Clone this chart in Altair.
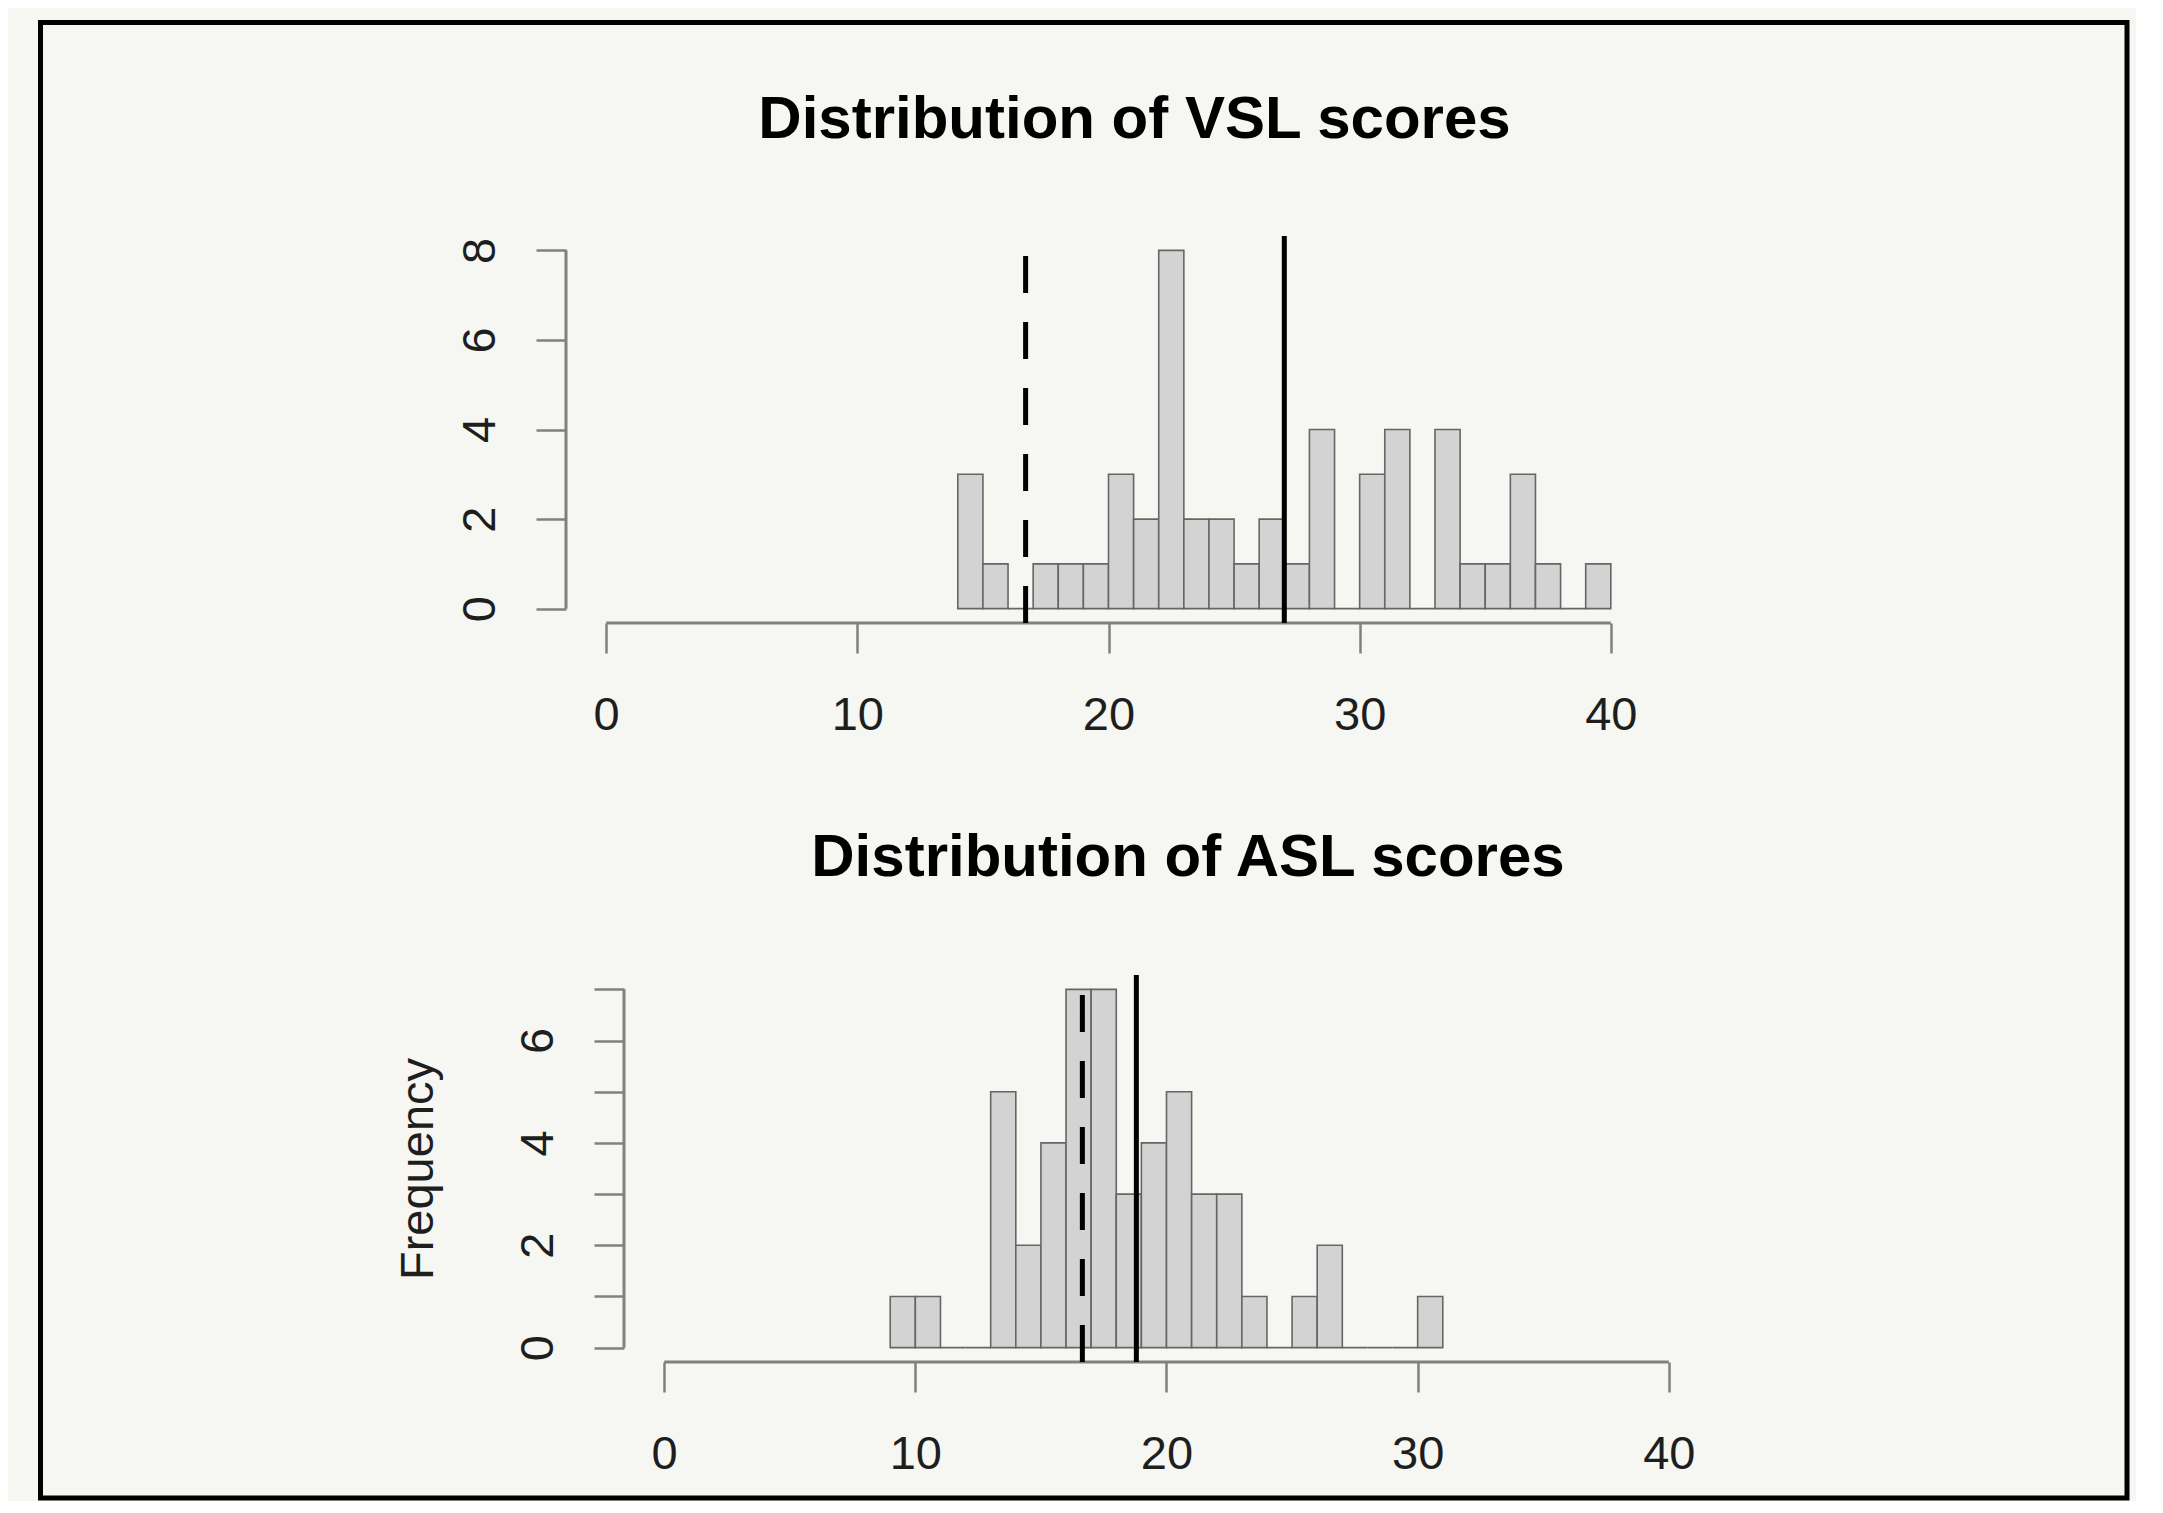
import altair as alt
import pandas as pd

# ---------------- data ----------------
vsl_bin_start = [14, 15, 16, 17, 18, 19, 20, 21, 22, 23, 24, 25, 26,
                 27, 28, 29, 30, 31, 32, 33, 34, 35, 36, 37, 38, 39]
vsl_counts = [3, 1, 0, 1, 1, 1, 3, 2, 8, 2, 2, 1, 2,
              1, 4, 0, 3, 4, 0, 4, 1, 1, 3, 1, 0, 1]

asl_bin_start = [9, 10, 11, 12, 13, 14, 15, 16, 17, 18, 19,
                 20, 21, 22, 23, 24, 25, 26, 27, 28, 29, 30]
asl_counts = [1, 1, 0, 0, 5, 2, 4, 7, 7, 3, 4,
              5, 3, 3, 1, 0, 1, 2, 0, 0, 0, 1]

vsl_dashed_line = 16.7
vsl_solid_line = 27.0
asl_dashed_line = 16.65
asl_solid_line = 18.8

x_ticks = [0, 10, 20, 30, 40]
vsl_y_ticks = [0, 2, 4, 6, 8]
asl_y_ticks = [0, 1, 2, 3, 4, 5, 6, 7]

vsl_title = "Distribution of VSL scores"
asl_title = "Distribution of ASL scores"
y_title = "Frequency"

# ---------------- styling ----------------
FONT = "Liberation Sans"
BG = "#f6f7f2"
BAR_FILL = "#d3d3d3"
BAR_STROKE = "#666666"
AXIS_GREY = "#808080"
TEXT = "#1e1e1e"

PLOT_W = 1085
PLOT_H = 387
UNIT_PX = PLOT_W / 43.2  # R extends the x range 0..40 by 4% on each side


def panel(starts, counts, ymax, dashed, solid, y_ticks, title, title_dx,
          title_offset, shift_px=0, y_axis_title=None, label_expr=None):
    x_lo = -1.6 - shift_px / UNIT_PX
    x_hi = 41.6
    y_lo = -0.04 * ymax
    y_hi = ymax * 1.04
    width = PLOT_W + shift_px

    bars = pd.DataFrame({
        "start": starts,
        "end": [s + 1 for s in starts],
        "count": counts,
        "base": [0] * len(starts),
    })
    x_axis_df = pd.DataFrame({"x0": [0], "x1": [40], "y0": [y_lo]})
    y_axis_df = pd.DataFrame({"x0": [-1.6], "y0": [0], "y1": [ymax]})
    dashed_df = pd.DataFrame({"x": [dashed], "y0": [y_lo], "y1": [y_hi]})
    solid_df = pd.DataFrame({"x": [solid], "y0": [y_lo], "y1": [y_hi]})

    xs = alt.Scale(domain=[x_lo, x_hi], nice=False, zero=False)
    ys = alt.Scale(domain=[y_lo, y_hi], nice=False, zero=False)

    y_axis_kwargs = dict(
        values=y_ticks, labelAngle=270, labelAlign="center",
        labelBaseline="bottom", labelPadding=32, labelOverlap=False,
        labelFlush=False,
    )
    if shift_px:
        y_axis_kwargs["offset"] = -shift_px
    if label_expr:
        y_axis_kwargs["labelExpr"] = label_expr
    if y_axis_title:
        y_axis_kwargs["titlePadding"] = 72

    bar_layer = alt.Chart(bars).mark_rect(
        fill=BAR_FILL, stroke=BAR_STROKE, strokeWidth=1.6
    ).encode(
        x=alt.X("start:Q", scale=xs, title=None,
                axis=alt.Axis(values=x_ticks, labelFlush=False,
                              labelOverlap=False, labelPadding=39)),
        x2="end:Q",
        y=alt.Y("count:Q", scale=ys, title=y_axis_title,
                axis=alt.Axis(**y_axis_kwargs)),
        y2="base:Q",
    )

    x_axis_line = alt.Chart(x_axis_df).mark_rule(
        color=AXIS_GREY, strokeWidth=3
    ).encode(x=alt.X("x0:Q", title=None), x2="x1:Q",
             y=alt.Y("y0:Q", title=y_axis_title))

    y_axis_line = alt.Chart(y_axis_df).mark_rule(
        color=AXIS_GREY, strokeWidth=3
    ).encode(x=alt.X("x0:Q", title=None),
             y=alt.Y("y0:Q", title=y_axis_title), y2="y1:Q")

    dashed_rule = alt.Chart(dashed_df).mark_rule(
        color="black", strokeWidth=5, strokeDash=[37, 29]
    ).encode(x=alt.X("x:Q", title=None),
             y=alt.Y("y0:Q", title=y_axis_title), y2="y1:Q")

    solid_rule = alt.Chart(solid_df).mark_rule(
        color="black", strokeWidth=5
    ).encode(x=alt.X("x:Q", title=None),
             y=alt.Y("y0:Q", title=y_axis_title), y2="y1:Q")

    center_shift = shift_px / 2.0
    return alt.layer(
        bar_layer, x_axis_line, y_axis_line, dashed_rule, solid_rule
    ).properties(
        width=width,
        height=PLOT_H,
        title=alt.TitleParams(
            text=title, font=FONT, fontSize=60, fontWeight="bold",
            color="black", anchor="middle", frame="group",
            offset=title_offset, baseline="alphabetic",
            dx=title_dx - center_shift,
        ),
    )


top = panel(vsl_bin_start, vsl_counts, 8, vsl_dashed_line, vsl_solid_line,
            vsl_y_ticks, vsl_title, title_dx=26, title_offset=36)

bottom = panel(asl_bin_start, asl_counts, 7, asl_dashed_line, asl_solid_line,
               asl_y_ticks, asl_title, title_dx=79.5, title_offset=37,
               shift_px=58, y_axis_title=y_title,
               label_expr="datum.value % 2 == 0 ? datum.label : ''")

panels = alt.vconcat(top, bottom, spacing=352, bounds="flush")

# outer figure frame (decoration around the whole figure)
frame_df = pd.DataFrame({"frame": [1]})
frame = alt.Chart(frame_df).mark_rect(
    filled=False, stroke="black", strokeWidth=5
).encode(
    x=alt.value(-524.5), x2=alt.value(1562),
    y=alt.value(-213.5), y2=alt.value(1262),
).properties(width=1, height=1)

chart = alt.hconcat(frame, panels, spacing=0, bounds="flush").properties(
    background=BG,
    padding={"left": 30, "top": 12, "right": 6, "bottom": 0},
).configure_axis(
    grid=False,
    domain=False,
    labelFont=FONT,
    labelFontSize=47,
    labelColor=TEXT,
    titleFont=FONT,
    titleFontSize=47,
    titleFontWeight="normal",
    titleColor=TEXT,
    tickColor=AXIS_GREY,
    tickWidth=2.5,
    tickSize=30,
).configure_view(
    strokeWidth=0,
)

chart.save("out.html", embed_options={"renderer": "svg", "actions": False})
